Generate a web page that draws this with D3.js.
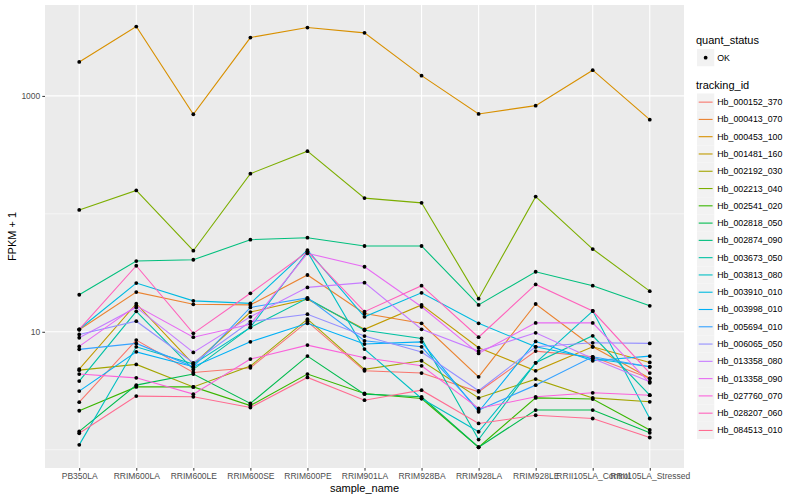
<!DOCTYPE html>
<html>
<head>
<meta charset="utf-8">
<script src="https://cdn.jsdelivr.net/npm/d3@7"></script>
<style>
  body { margin: 0; background: #fff; }
  svg { font-family: "Liberation Sans", Arial, sans-serif; }
  .axis text { fill: #4d4d4d; font-size: 8.5px; }
  .axis line { stroke: #333; stroke-width: 1; }
  .axis path { display: none; }
</style>
</head>
<body>
<div id="chart"></div>
<script>
// Dados
const categories = ["PB350LA", "RRIM600LA", "RRIM600LE", "RRIM600SE", "RRIM600PE", "RRIM901LA",
    "RRIM928BA", "RRIM928LA", "RRIM928LE", "RRII105LA_Control", "RRII105LA_Stressed"];

const trackingIds = ["Hb_000152_370", "Hb_000413_070", "Hb_000453_100", "Hb_001481_160", "Hb_002192_030",
    "Hb_002213_040", "Hb_002541_020", "Hb_002818_050", "Hb_002874_090", "Hb_003673_050",
    "Hb_003813_080", "Hb_003910_010", "Hb_003998_010", "Hb_005694_010", "Hb_006065_050",
    "Hb_013358_080", "Hb_013358_090", "Hb_027760_070", "Hb_028207_060", "Hb_084513_010"];

// FPKM + 1, one row per tracking_id, one value per sample
const fpkm = [
    [2.53, 8.5, 4.52, 4.95, 12.2, 4.67, 4.47, 3.1, 6.86, 6.14, 4.03],
    [10.4, 21.7, 17.1, 16.9, 30.3, 14.3, 11.8, 4.15, 17.2, 7.46, 4.03],
    [1941, 3873, 699, 3125, 3800, 3425, 1486, 703, 827, 1652, 629],
    [4.83, 17.3, 5.32, 14.7, 18.9, 10.5, 16.9, 7.32, 4.67, 7.46, 5.5],
    [4.73, 5.29, 3.41, 5.12, 12.8, 4.8, 5.68, 2.75, 3.97, 2.75, 2.55],
    [108, 158, 48.7, 219, 340, 136, 124, 19.1, 140, 50.3, 22.1],
    [2.14, 3.41, 3.41, 2.37, 4.38, 3.0, 2.72, 1.05, 2.75, 2.69, 1.47],
    [1.43, 3.53, 4.38, 2.47, 6.22, 2.96, 2.81, 1.05, 2.17, 2.17, 1.39],
    [20.6, 39.8, 40.8, 60.4, 62.8, 53.4, 53.4, 16.9, 32.3, 24.6, 16.6],
    [3.82, 14.9, 4.8, 10.9, 19.2, 10.3, 8.79, 1.22, 5.46, 9.25, 2.9],
    [1.1, 7.46, 5.32, 10.9, 47.7, 7.13, 2.72, 1.42, 5.46, 15.0, 1.84],
    [10.5, 25.9, 18.3, 17.4, 49.3, 13.4, 21.4, 11.8, 7.46, 5.94, 5.05],
    [3.14, 6.76, 5.05, 8.22, 11.8, 7.87, 8.22, 2.1, 8.29, 5.68, 6.22],
    [7.1, 7.97, 5.05, 16.1, 19.4, 8.39, 7.46, 2.17, 3.53, 6.14, 5.05],
    [9.5, 12.3, 5.46, 12.2, 14.1, 9.2, 6.73, 3.16, 7.46, 8.07, 7.97],
    [8.9, 16.1, 6.69, 13.4, 23.8, 26.1, 10.5, 6.86, 9.8, 5.94, 3.77],
    [7.52, 16.6, 9.0, 11.6, 46.3, 35.6, 16.3, 6.56, 11.9, 11.9, 3.69],
    [4.38, 4.07, 2.96, 5.87, 7.71, 6.02, 5.15, 2.24, 2.81, 3.04, 2.9],
    [10.5, 36.3, 9.7, 21.2, 47.7, 14.8, 24.6, 9.0, 25.2, 15.0, 4.47],
    [1.38, 2.85, 2.81, 2.28, 4.1, 2.63, 3.2, 1.67, 1.96, 1.84, 1.27]
];

const yMajor = [10, 1000];
const yMinor = [1, 100];
const quantStatus = ["OK"];

// Cores (hue palette do ggplot)
const colors = ["#F8766D", "#EA8331", "#D89000", "#C09B00", "#A3A500", "#7CAE00", "#39B600", "#00BB4E",
    "#00BF7D", "#00C1A3", "#00BFC4", "#00BAE0", "#00B0F6", "#35A2FF", "#9590FF", "#C77CFF",
    "#E76BF3", "#FA62DB", "#FF62BC", "#FF6C91"];

const W = 800, H = 500;
const panel = { left: 45, right: 684, top: 5, bottom: 468 };

const svg = d3.select("#chart").append("svg")
    .attr("width", W).attr("height", H);

const x = d3.scalePoint()
    .domain(categories)
    .range([panel.left, panel.right])
    .padding(0.6);

const y = d3.scaleLog()
    .domain([0.7, 5900])
    .range([panel.bottom, panel.top]);

const color = d3.scaleOrdinal().domain(trackingIds).range(colors);

// Fundo do painel
svg.append("rect")
    .attr("x", panel.left).attr("y", panel.top)
    .attr("width", panel.right - panel.left)
    .attr("height", panel.bottom - panel.top)
    .attr("fill", "#EBEBEB");

// Grid
svg.append("g").selectAll("line")
    .data(yMinor)
    .enter().append("line")
    .attr("x1", panel.left).attr("x2", panel.right)
    .attr("y1", d => y(d)).attr("y2", d => y(d))
    .attr("stroke", "#fff").attr("stroke-width", 0.55);

svg.append("g").selectAll("line")
    .data(yMajor)
    .enter().append("line")
    .attr("x1", panel.left).attr("x2", panel.right)
    .attr("y1", d => y(d)).attr("y2", d => y(d))
    .attr("stroke", "#fff").attr("stroke-width", 1.1);

svg.append("g").selectAll("line")
    .data(categories)
    .enter().append("line")
    .attr("x1", d => x(d)).attr("x2", d => x(d))
    .attr("y1", panel.top).attr("y2", panel.bottom)
    .attr("stroke", "#fff").attr("stroke-width", 1.1);

// Eixos
svg.append("g")
    .attr("class", "axis")
    .attr("transform", `translate(${panel.left},0)`)
    .call(d3.axisLeft(y).tickValues(yMajor).tickFormat(d3.format("d")).tickSize(2.7).tickPadding(2));

svg.append("g")
    .attr("class", "axis")
    .attr("transform", `translate(0,${panel.bottom})`)
    .call(d3.axisBottom(x).tickSize(2.7).tickPadding(2));

// Linhas
const series = trackingIds.map((id, i) => ({
    id: id,
    values: categories.map((c, j) => ({ cat: c, v: fpkm[i][j] }))
}));

const line = d3.line()
    .x(d => x(d.cat))
    .y(d => y(d.v));

svg.append("g").selectAll("path")
    .data(series)
    .enter().append("path")
    .attr("d", d => line(d.values))
    .attr("fill", "none")
    .attr("stroke", d => color(d.id))
    .attr("stroke-width", 1.1);

// Pontos
svg.append("g").selectAll("circle")
    .data(series.flatMap(s => s.values))
    .enter().append("circle")
    .attr("cx", d => x(d.cat))
    .attr("cy", d => y(d.v))
    .attr("r", 1.9)
    .attr("fill", "#000");

// Titulos dos eixos
svg.append("text")
    .attr("x", (panel.left + panel.right) / 2)
    .attr("y", 492)
    .attr("text-anchor", "middle")
    .attr("font-size", "11px")
    .text("sample_name");

svg.append("text")
    .attr("transform", `translate(16,${(panel.top + panel.bottom) / 2}) rotate(-90)`)
    .attr("text-anchor", "middle")
    .attr("font-size", "11px")
    .text("FPKM + 1");

// Legenda
const lg = svg.append("g").attr("transform", "translate(697,0)");
const keySize = 17.28;

lg.append("text").attr("x", -1).attr("y", 44).attr("font-size", "11px").text("quant_status");
const qk = lg.selectAll(".qk")
    .data(quantStatus)
    .enter().append("g")
    .attr("transform", (d, i) => `translate(0,${49 + i * keySize})`);
qk.append("rect").attr("width", keySize).attr("height", keySize).attr("fill", "#F2F2F2");
qk.append("circle").attr("cx", keySize / 2).attr("cy", keySize / 2).attr("r", 1.9).attr("fill", "#000");
qk.append("text").attr("x", keySize + 3).attr("y", keySize / 2 + 3).attr("font-size", "8.8px").text(d => d);

lg.append("text").attr("x", -1).attr("y", 89).attr("font-size", "11px").text("tracking_id");
const tk = lg.selectAll(".tk")
    .data(trackingIds)
    .enter().append("g")
    .attr("transform", (d, i) => `translate(0,${93.5 + i * keySize})`);
tk.append("rect").attr("width", keySize).attr("height", keySize).attr("fill", "#F2F2F2");
tk.append("line")
    .attr("x1", 1.7).attr("x2", keySize - 1.7)
    .attr("y1", keySize / 2).attr("y2", keySize / 2)
    .attr("stroke", d => color(d)).attr("stroke-width", 1.1);
tk.append("text").attr("x", keySize + 3).attr("y", keySize / 2 + 3).attr("font-size", "8.8px").text(d => d);
</script>
</body>
</html>
